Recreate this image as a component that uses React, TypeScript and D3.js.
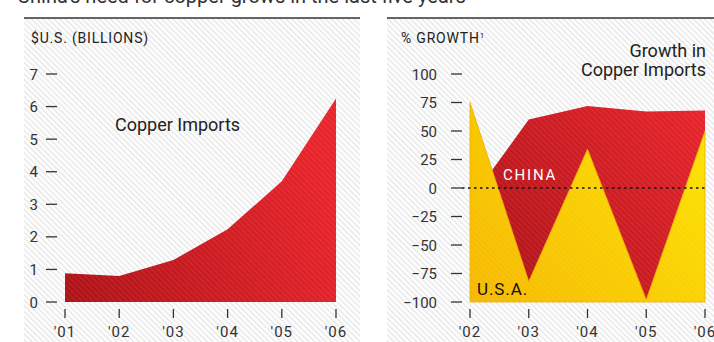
import React from "react";
import * as d3 from "d3";

const years1 = ["'01", "'02", "'03", "'04", "'05", "'06"];
const imports = [0.88, 0.8, 1.29, 2.23, 3.71, 6.25];
const yTicks1 = [0, 1, 2, 3, 4, 5, 6, 7];

const years2 = ["'02", "'03", "'04", "'05", "'06"];
const usaGrowth = [75, -82, 34, -98, 50];
const chinaGrowth = [-11, 60, 72, 67, 68];
const yTicks2 = [100, 75, 50, 25, 0, -25, -50, -75, -100];

const FONT = "Roboto, 'Liberation Sans', Arial, sans-serif";

export default function App() {
  const x1 = d3.scalePoint<string>().domain(years1).range([65, 336]);
  const y1 = d3.scaleLinear().domain([0, 7]).range([302, 74]);
  const x2 = d3.scalePoint<string>().domain(years2).range([470, 705]);
  const y2 = d3.scaleLinear().domain([-100, 100]).range([302, 74]);

  const area1 = d3
    .area<number>()
    .x((_, i) => x1(years1[i])!)
    .y0(y1(0))
    .y1((d) => y1(d));

  const area2 = d3
    .area<number>()
    .x((_, i) => x2(years2[i])!)
    .y0(y2(-100))
    .y1((d) => y2(d));

  return (
    <svg
      width={714}
      height={342}
      style={{ position: "absolute", left: 0, top: 0, fontFamily: FONT }}
    >
      <defs>
        <pattern id="hatch" width="4" height="4" patternUnits="userSpaceOnUse" patternTransform="rotate(-45)">
          <rect width="4" height="4" fill="#ffffff" />
          <rect width="1.6" height="4" fill="#e9e9e9" />
        </pattern>
        <pattern id="hatchOver" width="4" height="4" patternUnits="userSpaceOnUse" patternTransform="rotate(-45)">
          <rect width="1.6" height="4" fill="#ffffff" fillOpacity="0.07" />
        </pattern>
        <linearGradient id="red1" gradientUnits="userSpaceOnUse" x1="65" y1="300" x2="336" y2="200">
          <stop offset="0" stopColor="#ad1116" />
          <stop offset="1" stopColor="#e8232a" />
        </linearGradient>
        <linearGradient id="red2" gradientUnits="userSpaceOnUse" x1="470" y1="300" x2="705" y2="110">
          <stop offset="0" stopColor="#a91116" />
          <stop offset="1" stopColor="#e8232a" />
        </linearGradient>
        <linearGradient id="yel" gradientUnits="userSpaceOnUse" x1="470" y1="300" x2="705" y2="110">
          <stop offset="0" stopColor="#f6b800" />
          <stop offset="1" stopColor="#fde400" />
        </linearGradient>
      </defs>

      {/* cut-off title (partly outside the top edge, as in the reference) */}
      <text x={17} y={3} fontSize={20} fill="#333">
        China’s need for copper grows in the last five years
      </text>

      {/* panels */}
      <rect x={24} y={18} width={336} height={324} fill="url(#hatch)" />
      <rect x={387} y={18} width={336} height={324} fill="url(#hatch)" />
      <line x1={24} x2={360} y1={18} y2={18} stroke="#333" strokeWidth={1.4} />
      <line x1={387} x2={714} y1={18} y2={18} stroke="#333" strokeWidth={1.4} />

      {/* LEFT CHART */}
      <text x={31} y={43} fontSize={14} fill="#222" letterSpacing={0.8}>
        $U.S. (BILLIONS)
      </text>
      {yTicks1.map((t) => (
        <g key={t}>
          <text x={38} y={y1(t) + 5.5} fontSize={15} fill="#333" textAnchor="end">
            {t}
          </text>
          <line x1={46} x2={57} y1={y1(t)} y2={y1(t)} stroke="#333" strokeWidth={1.3} />
        </g>
      ))}
      <path d={area1(imports)!} fill="url(#red1)" />
      <path d={area1(imports)!} fill="url(#hatchOver)" />
      {years1.map((yr) => (
        <g key={yr}>
          <line x1={x1(yr)} x2={x1(yr)} y1={309} y2={318} stroke="#333" strokeWidth={1.3} />
          <text x={x1(yr)} y={337} fontSize={15} fill="#333" textAnchor="middle" letterSpacing={1}>
            {yr}
          </text>
        </g>
      ))}
      <text x={115} y={131} fontSize={18} fill="#222">
        Copper Imports
      </text>

      {/* RIGHT CHART */}
      <text x={401} y={43} fontSize={14} fill="#222" letterSpacing={0.8}>
        % GROWTH
        <tspan fontSize={8} dy={-5}>
          1
        </tspan>
      </text>
      <text x={706} y={57} fontSize={18} fill="#222" textAnchor="end">
        Growth in
      </text>
      <text x={706} y={76} fontSize={18} fill="#222" textAnchor="end">
        Copper Imports
      </text>
      {yTicks2.map((t) => (
        <g key={t}>
          <text x={437} y={y2(t) + 5.5} fontSize={15} fill="#333" textAnchor="end">
            {t < 0 ? "−" + Math.abs(t) : t}
          </text>
          <line x1={451} x2={462} y1={y2(t)} y2={y2(t)} stroke="#333" strokeWidth={1.3} />
        </g>
      ))}
      <path d={area2(chinaGrowth)!} fill="url(#red2)" />
      <path d={area2(usaGrowth)!} fill="url(#yel)" stroke="#f0a800" strokeWidth={0.8} />
      <path d={area2(chinaGrowth)!} fill="url(#hatchOver)" />
      <line
        x1={462}
        x2={705}
        y1={y2(0)}
        y2={y2(0)}
        stroke="#111"
        strokeWidth={1.3}
        strokeDasharray="2.5 3.5"
      />
      {years2.map((yr) => (
        <g key={yr}>
          <line x1={x2(yr)} x2={x2(yr)} y1={309} y2={318} stroke="#333" strokeWidth={1.3} />
          <text x={x2(yr)} y={337} fontSize={15} fill="#333" textAnchor="middle" letterSpacing={1}>
            {yr}
          </text>
        </g>
      ))}
      <text x={503} y={180} fontSize={15} fill="#fff" letterSpacing={1.8}>
        CHINA
      </text>
      <text x={477} y={295} fontSize={17} fill="#111" letterSpacing={0.9}>
        U.S.A.
      </text>
    </svg>
  );
}
